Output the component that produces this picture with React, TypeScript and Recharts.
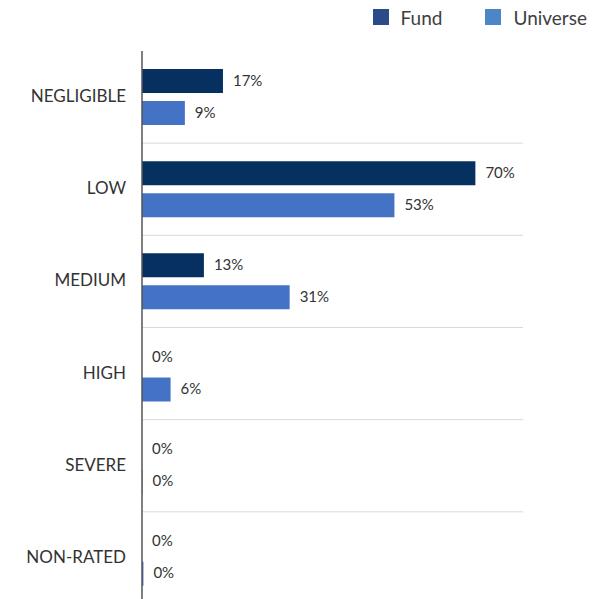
import { BarChart, Bar, XAxis, YAxis, CartesianGrid, Legend } from "recharts";

const ratings = ["NEGLIGIBLE", "LOW", "MEDIUM", "HIGH", "SEVERE", "NON-RATED"];
const fund = [17, 70, 13, 0, 0, 0];
const universe = [9, 53, 31, 6, 0.1, 0.3];
const xTicks = [0, 80];

const data = ratings.map((rating, i) => ({ rating, fund: fund[i], universe: universe[i] }));

const FUND = "#06305f";
const UNI = "#4472c4";
const FONT = "Lato, sans-serif";

const legendItems = [
  { name: "Fund", color: "#2a4a8a" },
  { name: "Universe", color: "#4a86c8" },
];

function LegendBox() {
  return (
    <div style={{ display: "flex", justifyContent: "flex-end", height: 34, fontFamily: FONT, fontSize: 19, color: "#404040" }}>
      {legendItems.map((it, i) => (
        <div key={it.name} style={{ display: "flex", alignItems: "center", marginLeft: i ? 43 : 0, height: 34 }}>
          <span style={{ width: 16, height: 16, background: it.color, display: "inline-block", marginRight: 12 }} />
          <span>{it.name}</span>
        </div>
      ))}
    </div>
  );
}

const renderLabel = (props: any) => {
  const { x, y, width, height, value } = props;
  return (
    <text
      x={Number(x) + Number(width || 0) + 10}
      y={Number(y) + Number(height) / 2 - 1.5}
      dominantBaseline="central"
      fontSize={15}
      fill="#333"
      fontFamily={FONT}
    >
      {`${Math.round(Number(value))}%`}
    </text>
  );
};

export default function App() {
  return (
    <div style={{ position: "absolute", left: 0, top: 0, width: 599, height: 599, overflow: "hidden", background: "#fff" }}>
      <BarChart
        width={599}
        height={604}
        data={data}
        layout="vertical"
        margin={{ top: 17, right: 76, left: 0, bottom: 0 }}
        barSize={24}
        barGap={8}
        barCategoryGap={18}
      >
        <CartesianGrid
          vertical={false}
          stroke="#d9d9d9"
          horizontalCoordinatesGenerator={({ offset }: any) =>
            ratings.slice(1).map((_, i) => offset.top + ((i + 1) * offset.height) / ratings.length)
          }
        />
        <XAxis type="number" domain={[0, 80]} ticks={xTicks} hide />
        <YAxis
          type="category"
          dataKey="rating"
          width={142}
          tickLine={false}
          axisLine={{ stroke: "#555", strokeWidth: 1.5 }}
          tickMargin={10}
          tick={{ fontSize: 17, fill: "#333", fontFamily: FONT, dy: -1 }}
        />
        <Legend
          verticalAlign="top"
          align="right"
          wrapperStyle={{ top: 0, right: 12, left: "auto", width: "auto" }}
          content={() => <LegendBox />}
        />
        <Bar dataKey="fund" name="Fund" fill={FUND} isAnimationActive={false} minPointSize={0.01} label={renderLabel} />
        <Bar dataKey="universe" name="Universe" fill={UNI} isAnimationActive={false} minPointSize={0.01} label={renderLabel} />
      </BarChart>
    </div>
  );
}
